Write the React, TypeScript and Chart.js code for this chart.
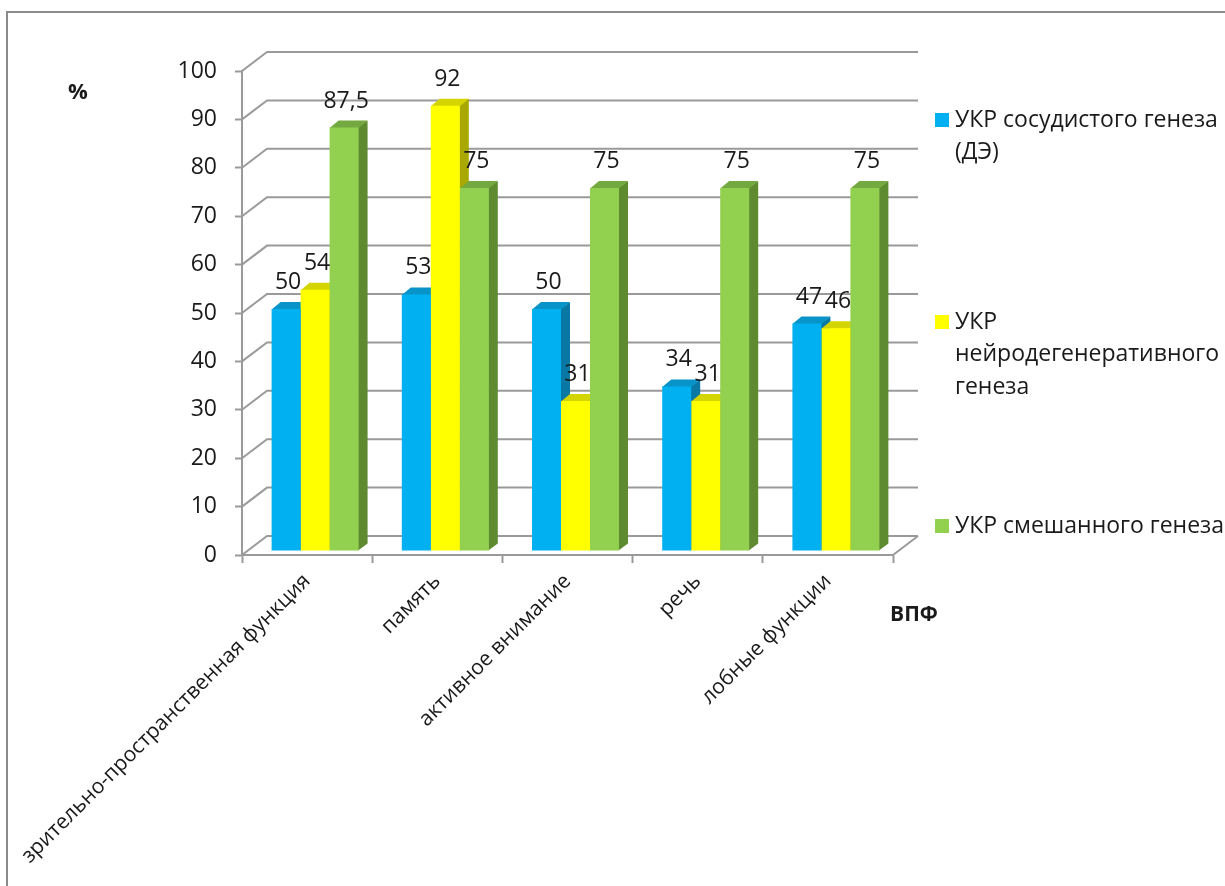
import React, { useEffect, useRef } from 'react';
import Chart from 'chart.js/auto';

const categories = [
  'зрительно-пространственная функция',
  'память',
  'активное внимание',
  'речь',
  'лобные функции',
];
const seriesNames = [
  'УКР сосудистого генеза (ДЭ)',
  'УКР нейродегенеративного генеза',
  'УКР смешанного генеза',
];
const legendLines = [
  ['УКР сосудистого генеза', '(ДЭ)'],
  ['УКР', 'нейродегенеративного', 'генеза'],
  ['УКР смешанного генеза'],
];
const vascular = [50, 53, 50, 34, 47];
const neurodegenerative = [54, 92, 31, 31, 46];
const mixed = [87.5, 75, 75, 75, 75];
const yMin = 0;
const yMax = 100;
const yStep = 10;
const yTitle = '%';
const xTitle = 'ВПФ';

const frontColors = ['#00B0F0', '#FFFF00', '#92D050'];
const topColors = ['#0894C8', '#D4D400', '#74A840'];
const sideColors = ['#0A78A4', '#A8A800', '#5E8A30'];

const FONT = '"Open Sans", "DejaVu Sans", sans-serif';
const TEXT = '#1a1a1a';
const GRID = '#9a9a9a';
const WALL = { dx: 25, dy: -19 };
const DEPTH = { dx: 9, dy: -7 };
const SHIFT = { x: 8, y: -4 };

const fmt = (v: number) => String(v).replace('.', ',');

const threeD = {
  id: 'threeD',
  beforeDraw(chart: any) {
    const ctx = chart.ctx;
    ctx.save();
    ctx.fillStyle = '#ffffff';
    ctx.fillRect(0, 0, chart.width, chart.height);
    ctx.strokeStyle = '#8a8a8a';
    ctx.lineWidth = 2;
    ctx.strokeRect(7, 12, 1300, 1000);
    ctx.restore();
  },
  beforeDatasetsDraw(chart: any) {
    const ctx = chart.ctx;
    const ys = chart.scales.y;
    const area = chart.chartArea;
    ctx.save();
    ctx.strokeStyle = GRID;
    ctx.lineWidth = 2;
    ctx.beginPath();
    for (let v = yMin; v <= yMax; v += yStep) {
      const y = ys.getPixelForValue(v);
      ctx.moveTo(area.left, y);
      ctx.lineTo(area.left + WALL.dx, y + WALL.dy);
      ctx.lineTo(area.right + WALL.dx, y + WALL.dy);
    }
    ctx.moveTo(area.right, area.bottom);
    ctx.lineTo(area.right + WALL.dx, area.bottom + WALL.dy);
    ctx.stroke();
    ctx.restore();
    ctx.save();
    ctx.translate(SHIFT.x, SHIFT.y);
    // sides and tops of all bars first; fronts (drawn by Chart.js) cover them
    chart.data.datasets.forEach((_ds: any, i: number) => {
      const meta = chart.getDatasetMeta(i);
      meta.data.forEach((bar: any) => {
        const p = bar.getProps(['x', 'y', 'base', 'width'], true);
        const x0 = p.x - p.width / 2;
        const x1 = p.x + p.width / 2;
        const yt = p.y;
        const yb = p.base;
        ctx.fillStyle = sideColors[i];
        ctx.beginPath();
        ctx.moveTo(x1 - 0.5, yt);
        ctx.lineTo(x1 + DEPTH.dx, yt + DEPTH.dy);
        ctx.lineTo(x1 + DEPTH.dx, yb + DEPTH.dy);
        ctx.lineTo(x1 - 0.5, yb);
        ctx.closePath();
        ctx.fill();
        ctx.fillStyle = topColors[i];
        ctx.beginPath();
        ctx.moveTo(x0, yt + 0.5);
        ctx.lineTo(x1, yt + 0.5);
        ctx.lineTo(x1 + DEPTH.dx, yt + DEPTH.dy);
        ctx.lineTo(x0 + DEPTH.dx, yt + DEPTH.dy);
        ctx.closePath();
        ctx.fill();
      });
    });
  },
  afterDatasetsDraw(chart: any) {
    const ctx = chart.ctx;
    ctx.fillStyle = TEXT;
    ctx.font = `23px ${FONT}`;
    ctx.textAlign = 'center';
    ctx.textBaseline = 'alphabetic';
    chart.data.datasets.forEach((ds: any, i: number) => {
      const meta = chart.getDatasetMeta(i);
      meta.data.forEach((bar: any, j: number) => {
        const p = bar.getProps(['x', 'y'], true);
        ctx.fillText(fmt(ds.data[j]), p.x + 2, p.y - 20);
      });
    });
    ctx.restore();
  },
  afterDraw(chart: any) {
    const ctx = chart.ctx;
    ctx.save();
    ctx.fillStyle = TEXT;
    ctx.textAlign = 'center';
    ctx.textBaseline = 'middle';
    ctx.font = `bold 22px ${FONT}`;
    ctx.fillText(yTitle, 78, 93);
    ctx.font = `bold 21px ${FONT}`;
    ctx.fillText(xTitle, 914, 615);
    const itemTops = [120, 322, 526];
    const lineH = 32.5;
    ctx.font = `23px ${FONT}`;
    ctx.textAlign = 'left';
    legendLines.forEach((lines, i) => {
      const cy = itemTops[i];
      ctx.fillStyle = frontColors[i];
      ctx.fillRect(935, cy - 7, 14, 14);
      ctx.fillStyle = TEXT;
      lines.forEach((ln, k) => {
        ctx.fillText(ln, 955, cy + k * lineH);
      });
    });
    ctx.restore();
  },
};

export default function App() {
  const ref = useRef<HTMLCanvasElement | null>(null);
  useEffect(() => {
    if (!ref.current) return;
    const data = [vascular, neurodegenerative, mixed];
    const chart = new Chart(ref.current, {
      type: 'bar',
      data: {
        labels: categories,
        datasets: data.map((d, i) => ({
          label: seriesNames[i],
          data: d,
          backgroundColor: frontColors[i],
          borderWidth: 0,
          categoryPercentage: 0.668,
          barPercentage: 1,
        })),
      },
      options: {
        responsive: false,
        animation: false,
        layout: { padding: { left: 0, top: 71, right: 332, bottom: 0 } },
        plugins: {
          legend: { display: false },
          tooltip: { enabled: false },
        },
        scales: {
          x: {
            afterFit: (s: any) => {
              s.height = 886 - 555;
              s.paddingLeft = 0;
              s.paddingRight = 0;
            },
            grid: {
              display: true,
              drawOnChartArea: false,
              drawTicks: true,
              tickLength: 8,
              tickWidth: 2,
              color: GRID,
              offset: true,
            },
            border: { display: true, color: GRID, width: 2 },
            ticks: {
              minRotation: 45,
              maxRotation: 45,
              autoSkip: false,
              padding: 6,
              color: TEXT,
              font: { family: FONT, size: 21 },
            },
          },
          y: {
            min: yMin,
            max: yMax,
            afterFit: (s: any) => {
              s.width = 242;
              s.paddingTop = 0;
              s.paddingBottom = 0;
            },
            grid: {
              display: true,
              drawOnChartArea: false,
              drawTicks: true,
              tickLength: 7,
              tickWidth: 2,
              color: GRID,
            },
            border: { display: true, color: GRID, width: 2 },
            ticks: {
              stepSize: yStep,
              padding: 18,
              color: TEXT,
              font: { family: FONT, size: 23 },
            },
          },
        },
      },
      plugins: [threeD],
    });
    return () => chart.destroy();
  }, []);
  return (
    <div style={{ position: 'absolute', left: 0, top: 0, width: 1225, height: 886 }}>
      <canvas ref={ref} width={1225} height={886} style={{ display: 'block' }} />
    </div>
  );
}
